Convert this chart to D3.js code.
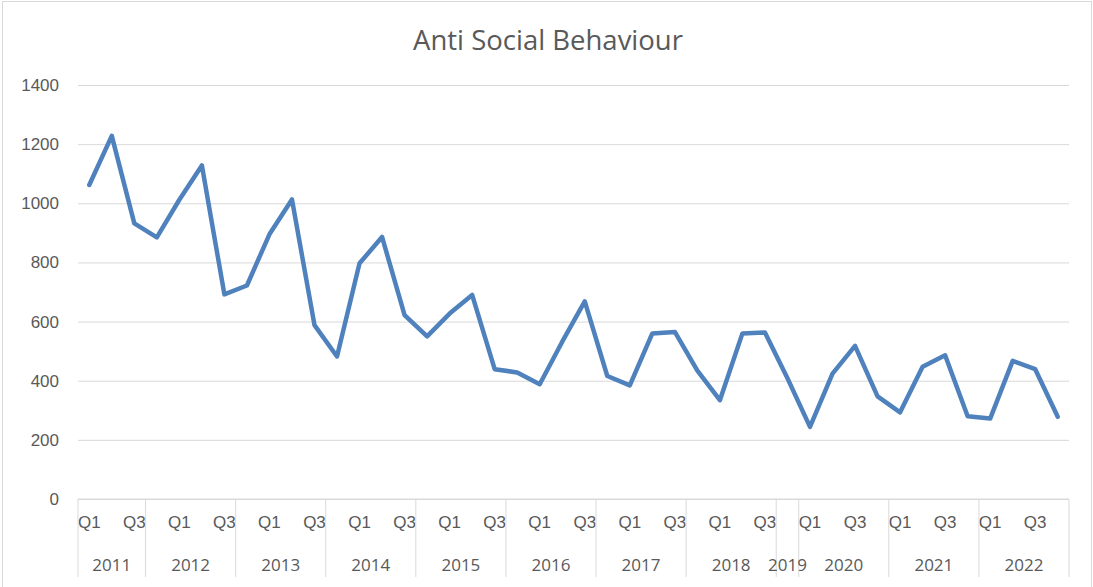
<!DOCTYPE html>
<html>
<head>
<meta charset="utf-8">
<script src="https://cdn.jsdelivr.net/npm/d3@7"></script>
<style>
  body { margin: 0; background: #fff; }
  svg { display: block; font-family: "Open Sans", sans-serif; }
  .axis path { display: none; }
  .y.axis line { stroke: #d9d9d9; }
  .axis text { fill: #595959; font-size: 17px; }
</style>
</head>
<body>
<svg id="chart" width="1093" height="587"></svg>
<script>
// quarterly counts, one per category on the x axis
let quarters = ["Q1","Q2","Q3","Q4","Q1","Q2","Q3","Q4","Q1","Q2","Q3","Q4",
  "Q1","Q2","Q3","Q4","Q1","Q2","Q3","Q4","Q1","Q2","Q3","Q4","Q1","Q2","Q3","Q4",
  "Q1","Q2","Q3","Q4","Q1","Q2","Q3","Q4","Q1","Q2","Q3","Q4","Q1","Q2","Q3","Q4"]
let incidents = [1062, 1228, 932, 885, 1012, 1128, 692, 722, 895, 1013, 588, 482,
  797, 886, 622, 550, 627, 690, 439, 428, 388, 532, 668, 416, 384, 560, 565, 434,
  334, 560, 563, 408, 244, 424, 518, 347, 293, 447, 486, 280, 272, 467, 439, 278]
// outer axis level: year label and how many categories it covers
let yearLabels = ["2011","2012","2013","2014","2015","2016","2017","2018","2019","2020","2021","2022"]
let yearCounts = [3, 4, 4, 4, 4, 4, 4, 4, 1, 4, 4, 4]
let yTicks = [0, 200, 400, 600, 800, 1000, 1200, 1400]

let width = 1093
let height = 587
let margin = { top: 85, right: 24, bottom: 88, left: 78 }
let svg = d3.select("#chart")

// chart border
svg.append("rect")
    .attr("x", 2.5)
    .attr("y", 1.5)
    .attr("width", width - 4)
    .attr("height", height + 10)
    .style("fill", "none")
    .style("stroke", "#d9d9d9")
    .style("stroke-width", "1px")

let x = d3.scaleBand()
    .domain(d3.range(incidents.length))
    .range([margin.left, width - margin.right])
    .padding(0)

let y = d3.scaleLinear()
    .domain([0, 1400])
    .range([height - margin.bottom, margin.top])

let yAxisSettings = d3.axisLeft(y)
    .tickValues(yTicks)
    .tickSize(-(width - margin.left - margin.right))
    .tickPadding(19)
    .tickFormat(d3.format("d"))

svg.append("g")
    .attr("class", "y axis")
    .attr("transform", `translate(${margin.left},0)`)
    .call(yAxisSettings)

// baseline
svg.append("line")
    .attr("x1", margin.left)
    .attr("x2", width - margin.right)
    .attr("y1", y(0))
    .attr("y2", y(0))
    .style("stroke", "#d9d9d9")

// inner level: quarter labels, every other one like Excel does when crowded
let xAxisSettings = d3.axisBottom(x)
    .tickSize(0)
    .tickPadding(17)
    .tickFormat(i => i % 2 == 0 ? quarters[i] : "")

svg.append("g")
    .attr("class", "x axis")
    .attr("transform", `translate(0,${y(0)})`)
    .call(xAxisSettings)

// outer level: year groups with separators
let starts = []
let acc = 0
yearCounts.forEach(n => { starts.push(acc); acc += n })

let groups = svg.append("g").attr("id", "years")

starts.concat([incidents.length]).forEach(s => {
  let sx = s < incidents.length ? x(s) : x(incidents.length - 1) + x.bandwidth()
  groups.append("line")
      .attr("x1", sx)
      .attr("x2", sx)
      .attr("y1", y(0))
      .attr("y2", 577)
      .style("stroke", "#d9d9d9")
      .style("stroke-width", "1px")
})

groups.selectAll("text")
    .data(yearLabels)
    .join("text")
    .attr("x", (d, i) => x(starts[i]) + yearCounts[i] * x.bandwidth() / 2)
    .attr("y", 571)
    .attr("text-anchor", "middle")
    .style("fill", "#595959")
    .style("font-size", "17px")
    .text(d => d)

let line = d3.line()
    .x((d, i) => x(i) + x.bandwidth() / 2)
    .y(d => y(d))

svg.append("path")
    .datum(incidents)
    .attr("d", line)
    .style("fill", "none")
    .style("stroke", "#4f81bd")
    .style("stroke-width", "4.5px")
    .style("stroke-linejoin", "round")
    .style("stroke-linecap", "round")

svg.append("text")
    .attr("id", "title")
    .attr("text-anchor", "middle")
    .attr("x", 548)
    .attr("y", 50)
    .style("fill", "#595959")
    .style("font-size", "27.5px")
    .text("Anti Social Behaviour")
</script>
</body>
</html>
